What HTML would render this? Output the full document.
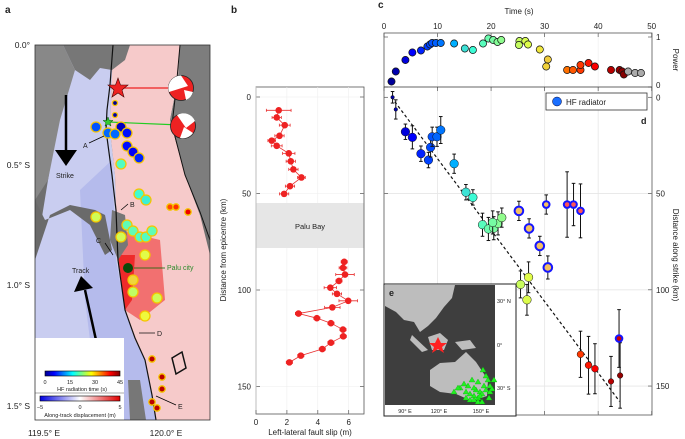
<!DOCTYPE html>
<html><head><meta charset="utf-8">
<style>
html,body{margin:0;padding:0;background:#fff;}
svg{display:block;font-family:"Liberation Sans",sans-serif;}
text{fill:#222;}
</style></head>
<body>
<svg id="fig" width="685" height="439" viewBox="0 0 685 439" xmlns="http://www.w3.org/2000/svg">
<!-- ===== Panel a ===== -->
<g>
  <text x="5" y="13" font-size="10" font-weight="bold">a</text>
  <rect x="35" y="45" width="175" height="375" fill="#7a7a7a"/>
  <polygon points="35,45 180,45 175,120 195,190 210,240 210,420 35,420" fill="#6f6f6f"/>
  <polygon points="63,45 113,45 110,130 115,175 118,260 125,310 135,340 145,360 152,395 156,420 35,420 35,260 48,180 58,120" fill="#c9cdf0"/>
  <polygon points="80,190 112,160 116,260 125,310 135,340 145,360 152,395 156,420 100,420 85,300" fill="#b5bbec"/>
  <polygon points="113,45 180,45 178,80 170,120 185,175 200,215 210,255 210,420 156,420 152,395 145,360 135,340 125,310 118,260 115,175 110,130" fill="#f6caca"/>
  <polygon points="118,230 160,240 165,300 140,320 125,310" fill="#f27070"/>
  <polygon points="118,255 135,255 132,300 125,310" fill="#ee2a2a"/>
  <polygon points="63,45 130,45 125,60 112,70 100,68 90,80 75,70" fill="#777"/>
  <polygon points="35,45 63,45 75,70 60,120 48,180 35,200" fill="#888"/>
  <polygon points="180,45 210,45 210,235 200,215 185,175 170,120 178,80" fill="#7d7d7d"/>
  <polygon points="35,200 45,220 70,210 90,225 105,255 112,250 105,215 95,210 70,205 50,215 35,260" fill="#6a6a6a"/>
  <polygon points="112,210 125,215 128,245 118,260 110,240" fill="#777"/>
  <polygon points="128,380 140,380 146,420 130,420" fill="#777"/>
  <polygon points="172,358 182,352 186,368 176,374" fill="none" stroke="#111" stroke-width="1.5"/>
  <polyline points="113,45 110,85 107,110 106,130 112,175 116,210 118,260 125,310 135,338 145,360 152,395 156,420" fill="none" stroke="#111" stroke-width="1.2"/>
  <polyline points="180,45 176,90 172,125 185,175 200,212 210,240" fill="none" stroke="#111" stroke-width="1"/>
  <line x1="118" y1="88" x2="180" y2="88" stroke="#e22" stroke-width="1.2"/>
  <line x1="108" y1="122" x2="180" y2="125" stroke="#2c2" stroke-width="1.2"/>
  <g><circle cx="181" cy="88" r="12.5" fill="#e22" stroke="#222" stroke-width="0.8"/><path d="M181,75.5 A12.5,12.5 0 0 0 169,92 L188,86 Z" fill="#fff"/><path d="M193,92 A12.5,12.5 0 0 1 186,100 L184,90 Z" fill="#fff"/></g>
  <g><circle cx="183" cy="126" r="12.5" fill="#e22" stroke="#222" stroke-width="0.8"/><path d="M177,115 A12.5,12.5 0 0 1 195,121 L186,128 Z" fill="#fff"/><path d="M180,138 A12.5,12.5 0 0 0 193,133 L184,127 Z" fill="#fff"/></g>
  <g id="mapPts"></g>
  <polygon points="118,78 120.5,85 128,85 122,90 124,97 118,93 112,97 114,90 108,85 115.5,85" fill="#e22" stroke="#400" stroke-width="0.6"/>
  <polygon points="108,117 109.3,120.5 113,120.5 110,122.7 111,126 108,124 105,126 106,122.7 103,120.5 106.7,120.5" fill="#3c3" stroke="#050" stroke-width="0.5"/>
  <line x1="66" y1="95" x2="66" y2="150" stroke="#000" stroke-width="2.5"/>
  <polygon points="55,150 77,150 66,166" fill="#000"/>
  <text x="56" y="178" font-size="7">Strike</text>
  <line x1="96" y1="340" x2="85" y2="290" stroke="#000" stroke-width="2.5"/>
  <polygon points="74,292 93,288 81,276" fill="#000"/>
  <text x="72" y="273" font-size="7">Track</text>
  <text x="83" y="148" font-size="7">A</text><line x1="89" y1="143" x2="104" y2="136" stroke="#000" stroke-width="0.7"/>
  <text x="130" y="207" font-size="7">B</text><line x1="128" y1="204" x2="121" y2="210" stroke="#000" stroke-width="0.7"/>
  <text x="96" y="243" font-size="7">C</text><line x1="105" y1="243" x2="113" y2="255" stroke="#000" stroke-width="0.7"/>
  <text x="157" y="336" font-size="7">D</text><line x1="155" y1="333" x2="139" y2="333" stroke="#000" stroke-width="0.7"/>
  <text x="178" y="409" font-size="7">E</text><line x1="176" y1="405" x2="156" y2="396" stroke="#000" stroke-width="0.7"/>
  <line x1="134" y1="268" x2="165" y2="268" stroke="#060" stroke-width="0.8"/>
  <text x="167" y="270" font-size="7" style="fill:#2a8a2a">Palu city</text>
  <g>
  <rect x="35" y="338" width="89" height="82" fill="#fff"/>
  <defs>
    <linearGradient id="jet"><stop offset="0" stop-color="#00008f"/><stop offset="0.12" stop-color="#0000ff"/><stop offset="0.37" stop-color="#00ffff"/><stop offset="0.62" stop-color="#ffff00"/><stop offset="0.87" stop-color="#ff0000"/><stop offset="1" stop-color="#800000"/></linearGradient>
    <linearGradient id="bwr"><stop offset="0" stop-color="#0000e0"/><stop offset="0.5" stop-color="#ffffff"/><stop offset="1" stop-color="#e00000"/></linearGradient>
  </defs>
  <rect x="45" y="371" width="75" height="5" fill="url(#jet)" stroke="#000" stroke-width="0.6"/>
  <text x="45" y="384" font-size="5.5" text-anchor="middle">0</text><text x="70" y="384" font-size="5.5" text-anchor="middle">15</text><text x="95" y="384" font-size="5.5" text-anchor="middle">30</text><text x="120" y="384" font-size="5.5" text-anchor="middle">45</text>
  <text x="82" y="391" font-size="5.5" text-anchor="middle">HF radiation time (s)</text>
  <line x1="35" y1="393" x2="124" y2="393" stroke="#555" stroke-width="0.5"/>
  <rect x="40" y="396" width="80" height="5" fill="url(#bwr)" stroke="#000" stroke-width="0.6"/>
  <text x="40" y="409" font-size="5.5" text-anchor="middle">−5</text><text x="80" y="409" font-size="5.5" text-anchor="middle">0</text><text x="120" y="409" font-size="5.5" text-anchor="middle">5</text>
  <text x="80" y="417" font-size="5.5" text-anchor="middle">Along-track displacement (m)</text>
  </g>
  <rect x="35" y="45" width="175" height="375" fill="none" stroke="#333" stroke-width="0.8"/>
  <g font-size="8.5" text-anchor="end">
    <text x="30" y="48">0.0°</text><text x="30" y="168">0.5° S</text><text x="30" y="288">1.0° S</text><text x="30" y="409">1.5° S</text>
  </g>
  <g font-size="8.5" text-anchor="middle">
    <text x="44" y="436">119.5° E</text><text x="166" y="436">120.0° E</text>
  </g>
</g>

<!-- ===== Panel b ===== -->
<g>
  <text x="231" y="13" font-size="10" font-weight="bold">b</text>
  <rect x="256" y="87" width="108" height="327" fill="#fff" stroke="#555" stroke-width="0.8"/>
  <g id="bGrid"></g>
  <rect x="256.5" y="203" width="107" height="45" fill="#e6e6e6"/>
  <text x="310" y="229" font-size="7.5" text-anchor="middle">Palu Bay</text>
  <g id="bMarks"></g>
  <text transform="translate(226,250) rotate(-90)" font-size="8" text-anchor="middle">Distance from epicentre (km)</text>
  <text x="310" y="435" font-size="8" text-anchor="middle">Left-lateral fault slip (m)</text>
</g>

<!-- ===== Panels c/d ===== -->
<g>
  <text x="378" y="8" font-size="10" font-weight="bold">c</text>
  <text x="519" y="14" font-size="8" text-anchor="middle">Time (s)</text>
  <rect x="384" y="33" width="268" height="382" fill="#fff" stroke="#555" stroke-width="0.8"/>
  <g id="cdGrid"></g>
  <line x1="384" y1="87" x2="652" y2="87" stroke="#333" stroke-width="0.8"/>
  <text transform="translate(673,60) rotate(90)" font-size="8" text-anchor="middle">Power</text>
  <text transform="translate(673,255) rotate(90)" font-size="8" text-anchor="middle">Distance along strike (km)</text>
  <g id="cMarks"></g>
  <g id="dMarks"></g>
  <g>
    <rect x="546" y="93" width="101" height="17" fill="#fff" stroke="#333" stroke-width="0.8"/>
    <circle cx="557" cy="101.5" r="4.5" fill="#1a6fff" stroke="#003" stroke-width="0.5"/>
    <text x="566" y="105" font-size="8">HF radiator</text>
  </g>
  <text x="641" y="124" font-size="9" font-weight="bold">d</text>
  <g>
    <rect x="384" y="284" width="132" height="132" fill="#fff" stroke="#222" stroke-width="1"/>
    <rect x="385" y="285" width="110" height="120" fill="#3e3e3e"/>
    <polygon points="385,285 455,285 452,298 444,307 436,318 428,326 420,332 414,322 404,320 396,312 385,306" fill="#bdbdbd"/>
    <polygon points="428,337 440,333 448,340 444,350 432,350" fill="#bdbdbd"/>
    <polygon points="412,335 428,350 422,352 410,340" fill="#bdbdbd"/>
    <polygon points="455,342 470,340 476,348 462,350" fill="#bdbdbd"/>
    <polygon points="430,370 440,363 455,362 466,352 476,362 488,380 487,396 472,401 456,394 440,392 430,386" fill="#bdbdbd"/>
    <polygon points="438,337 441,343 447,343 442,347 444,353 438,349 432,353 434,347 429,343 435,343" fill="#f22"/>
    <g id="stations"></g>
    <text x="389" y="296" font-size="9" font-weight="bold">e</text>
    <g font-size="5.5"><text x="497" y="303">30° N</text><text x="497" y="347">0°</text><text x="497" y="390">30° S</text>
    <text x="405" y="413" text-anchor="middle">90° E</text><text x="439" y="413" text-anchor="middle">120° E</text><text x="481" y="413" text-anchor="middle">150° E</text></g>
  </g>
</g>
</svg>

<script>
// ===== data =====
const mapX = [115,115,96,121,108,115,127,127,133,139,121,139,146,170,176,188,96,127,133,140,146,152,121,145,133,133,157,145,152,162,162,152,157];
const mapY = [103,115,127,127,133,134,133,146,152,158,164,194,200,207,207,212,217,225,231,237,237,231,237,255,280,292,298,316,359,377,389,402,408];
const mapT = [1,2,9,3,10,10,6,6,5,7,18,17,16,36,37,40,26,19,19,18,18,19,26,27,30,25,26,28,44,40,40,44,43];

const slipDist = [6.9,10.6,14.6,20.1,22.6,25.3,29.2,33.3,37.5,41.7,46.2,50.2, 85.4,88.5,92,95.3,98.8,102,105.6,109,112.2,114.6,117.2,120.5,124,127.3,130.6,134,137.5];
const slipVal  = [1.47,1.34,1.86,1.52,1.02,1.34,2.12,2.25,2.42,2.94,2.2,1.82, 5.71,5.63,5.76,5.37,4.81,5.24,5.97,4.94,2.75,3.94,4.85,5.63,5.65,4.85,4.29,2.9,2.16];
const slipErr  = [0.8,0.3,0.35,0.3,0.25,0.35,0.4,0.3,0.3,0.25,0.3,0.3, 0.2,0.25,0.6,0.2,0.4,0.3,0.6,0.5,0.2,0.2,0.2,0.2,0.2,0.2,0.2,0.2,0.2];
const bYTicks = [0,50,100,150];
const bXTicks = [0,2,4,6];

const powT = [1.4,2.2,4.0,5.3,6.9,8.1,8.6,9.0,9.7,10.6,13.1,15.1,16.6,18.5,19.5,20.4,21.2,21.9,25.3,25.2,26.4,26.9,29.1,30.6,30.3,34.2,35.3,36.7,36.7,38.2,39.4,42.4,44.0,44.5,44.8,45.6,46.9,48.0];
const powV = [0.11,0.31,0.54,0.69,0.73,0.81,0.85,0.88,0.88,0.88,0.87,0.77,0.74,0.87,0.97,0.94,0.90,0.94,0.92,0.84,0.92,0.85,0.75,0.55,0.41,0.34,0.34,0.34,0.44,0.48,0.41,0.34,0.34,0.31,0.25,0.31,0.28,0.28];

const hfT    = [1.6,2.2,4.0,5.3,6.9,8.3,8.7,9.0,9.9,10.6,13.1,15.3,16.6,18.4,19.5,20.5,21.3,22.0,20.3, 25.2,27.1,29.1,30.6,30.3,34.2,35.4,36.7, 25.5,27.0,26.7, 36.7,38.2,39.4,42.4,44.1,43.9];
const hfDist = [0,6.3,17.9,20.8,29.3,32.6,26,20.5,20.5,17,34.5,49.3,52,66.2,68.4,68,65.5,62.5,65, 59,68.1,77.2,88.4,55.7,55.7,55.7,59, 97.2,93.5,105.2, 133.5,139.2,141,147.6,144.5,125.3];
const hfErr  = [3,5,4,6,4,4,5,5,5,7,5,4,4,6,6,6,6,5,6, 5,5,5,6,5,17,11,14, 7,8,8, 12,15,13,13,17,15];
const hfRing = [0,0,0,0,0,0,0,0,0,0,0,0,0,0,0,0,0,0,0, 1,1,1,1,1,1,1,1, 0,0,0, 0,0,0,0,0,2];
const trendT = [1.4,44];
const trendD = [0,158];
const tTicks = [0,10,20,30,40,50];
const dTicks = [0,50,100,150];
const powTicks = [0,1];

const stX = [483,486,488,490,478,472,468,476,480,484,460,466,470,474,478,482,486,470,474,478,482,464,458,454,490,494,474,466,480,489,492];
const stY = [370,376,380,386,382,380,386,390,392,386,388,392,394,396,398,394,390,400,400,402,402,384,388,392,392,380,388,398,396,398,389];

// ===== helpers =====
const NS="http://www.w3.org/2000/svg";
function mk(tag, attrs, parent){const e=document.createElementNS(NS,tag);for(const k in attrs)e.setAttribute(k,attrs[k]);parent.appendChild(e);return e;}
function jet(t){
  const v=Math.max(0,Math.min(1,t/45));
  const stops=[[0,[0,0,120]],[0.12,[0,0,255]],[0.37,[0,255,255]],[0.62,[255,255,0]],[0.87,[255,0,0]],[1,[128,0,0]]];
  for(let i=1;i<stops.length;i++){if(v<=stops[i][0]){const a=stops[i-1],b=stops[i];const f=(v-a[0])/(b[0]-a[0]);const c=a[1].map((x,j)=>Math.round(x+(b[1][j]-x)*f));return "rgb("+c[0]+","+c[1]+","+c[2]+")";}}
  return "rgb(128,0,0)";
}
function soften(t){
  const v=t/45;
  if(v>0.3&&v<0.75){ // pastel greens/yellows
    const c=jet(t).match(/\d+/g).map(Number);
    return "rgb("+Math.round(c[0]*0.7+200*0.3)+","+Math.round(c[1]*0.8+240*0.2)+","+Math.round(c[2]*0.6+150*0.4)+")";
  }
  return jet(t);
}
const bx = v => 256 + v*15.45;
const by = d => 97 + d*1.93;
const tx = t => 384 + t*5.354;
const py = p => 87 - p*50;
const dy = d => 97.3 + d*1.925;

// ===== panel a points =====
const mp=document.getElementById('mapPts');
for(let i=0;i<mapX.length;i++){
  const small = i<2;
  const c=mk('circle',{cx:mapX[i],cy:mapY[i],r:small?2.5:(mapT[i]>35?3.2:5),fill:(mapT[i]>=40&&i>=28)?'#b00':soften(mapT[i]),stroke:'#f5c400','stroke-width':1.3},mp);
  
  
}
const palu=mk('circle',{cx:128,cy:268,r:5,fill:'#0a4a0a'},mp);



// ===== panel b =====
const bg=document.getElementById('bGrid');
bYTicks.forEach(v=>{
  mk('line',{x1:256,x2:364,y1:by(v),y2:by(v),stroke:'#eee','stroke-width':0.6},bg);
  mk('line',{x1:256,x2:260,y1:by(v),y2:by(v),stroke:'#555','stroke-width':0.7},bg);
  mk('line',{x1:360,x2:364,y1:by(v),y2:by(v),stroke:'#555','stroke-width':0.7},bg);
  const t=mk('text',{x:251,y:by(v)+3,'font-size':8,'text-anchor':'end'},bg);t.textContent=v;
  
  
});
bXTicks.forEach(v=>{
  mk('line',{x1:bx(v),x2:bx(v),y1:87,y2:414,stroke:'#eee','stroke-width':0.6},bg);
  mk('line',{x1:bx(v),x2:bx(v),y1:410,y2:414,stroke:'#555','stroke-width':0.7},bg);
  const t=mk('text',{x:bx(v),y:425,'font-size':8,'text-anchor':'middle'},bg);t.textContent=v;
  
  
});
const bm=document.getElementById('bMarks');
function polyB(from,to){
  let s='';
  for(let i=from;i<to;i++) s+=bx(slipVal[i])+','+by(slipDist[i])+' ';
  const p=mk('polyline',{points:s,fill:'none',stroke:'#e83030','stroke-width':0.8},bm);
  
  
}
polyB(0,12);polyB(12,slipVal.length);
for(let i=0;i<slipVal.length;i++){
  const y=by(slipDist[i]);
  const x0=bx(slipVal[i]-slipErr[i]), x1=bx(slipVal[i]+slipErr[i]);
  mk('line',{x1:x0,x2:x1,y1:y,y2:y,stroke:'#e83030','stroke-width':0.8},bm);
  mk('line',{x1:x0,x2:x0,y1:y-1.5,y2:y+1.5,stroke:'#e83030','stroke-width':0.8},bm);
  mk('line',{x1:x1,x2:x1,y1:y-1.5,y2:y+1.5,stroke:'#e83030','stroke-width':0.8},bm);
  const c=mk('circle',{cx:bx(slipVal[i]),cy:y,r:3.3,fill:'#ee2222'},bm);
  
  
}

// ===== panels c/d grid & ticks =====
const g=document.getElementById('cdGrid');
tTicks.forEach(v=>{
  if(v>0&&v<50){
    mk('line',{x1:tx(v),x2:tx(v),y1:87,y2:415,stroke:'#e6e6e6','stroke-width':0.8},g);
    mk('line',{x1:tx(v),x2:tx(v),y1:33,y2:87,stroke:'#f0f0f0','stroke-width':0.8},g);
  }
  mk('line',{x1:tx(v),x2:tx(v),y1:33,y2:37,stroke:'#555','stroke-width':0.7},g);
  mk('line',{x1:tx(v),x2:tx(v),y1:87,y2:91,stroke:'#555','stroke-width':0.7},g);
  mk('line',{x1:tx(v),x2:tx(v),y1:411,y2:415,stroke:'#555','stroke-width':0.7},g);
  const t=mk('text',{x:tx(v),y:29,'font-size':8,'text-anchor':'middle'},g);t.textContent=v;
  
  
});
dTicks.forEach(v=>{
  if(v>0) mk('line',{x1:384,x2:652,y1:dy(v),y2:dy(v),stroke:'#e6e6e6','stroke-width':0.8},g);
  mk('line',{x1:384,x2:388,y1:dy(v),y2:dy(v),stroke:'#555','stroke-width':0.7},g);
  mk('line',{x1:648,x2:652,y1:dy(v),y2:dy(v),stroke:'#555','stroke-width':0.7},g);
  const t=mk('text',{x:656,y:dy(v)+3,'font-size':8},g);t.textContent=v;
  
  
});
powTicks.forEach(v=>{
  mk('line',{x1:384,x2:388,y1:py(v),y2:py(v),stroke:'#555','stroke-width':0.7},g);
  mk('line',{x1:648,x2:652,y1:py(v),y2:py(v),stroke:'#555','stroke-width':0.7},g);
  const t=mk('text',{x:656,y:py(v)+(v===0?1:3),'font-size':8},g);t.textContent=v;
  
  
});

// ===== panel c power =====
const cm=document.getElementById('cMarks');
for(let i=0;i<powT.length;i++){
  const col = (powT[i]>44.6 && powV[i]>0.26) ? '#aaa' : soften(powT[i]);
  const c=mk('circle',{cx:tx(powT[i]),cy:py(powV[i]),r:3.6,fill:col,stroke:'#111','stroke-width':0.7},cm);
  
  
}

// ===== panel d =====
const dm=document.getElementById('dMarks');
const tl=mk('line',{x1:tx(trendT[0]),y1:dy(trendD[0]),x2:tx(trendT[1]),y2:dy(trendD[1]),stroke:'#111','stroke-width':1.2,'stroke-dasharray':'3,2.5'},dm);


for(let i=0;i<hfT.length;i++){
  const x=tx(hfT[i]), y=dy(hfDist[i]), e=hfErr[i]*1.925;
  mk('line',{x1:x,x2:x,y1:y-e,y2:y+e,stroke:'#111','stroke-width':1},dm);
  mk('line',{x1:x-1.8,x2:x+1.8,y1:y-e,y2:y-e,stroke:'#111','stroke-width':1},dm);
  mk('line',{x1:x-1.8,x2:x+1.8,y1:y+e,y2:y+e,stroke:'#111','stroke-width':1},dm);
  let c;
  if(hfRing[i]===1){
    c=mk('circle',{cx:x,cy:y,r:(hfT[i]>30&&hfDist[i]<62)?3.3:4.3,fill:hfT[i]>33?'#f55':'#f4c060',stroke:'#1515ff','stroke-width':2},dm);
  } else if(hfRing[i]===2){
    c=mk('circle',{cx:x,cy:y,r:3.3,fill:'#c00',stroke:'#1515ff','stroke-width':2},dm);
  } else {
    const r = i<2 ? 1.8 : (hfT[i]>42 ? 2.8 : (hfT[i]>36?3.4:4.3));
    c=mk('circle',{cx:x,cy:y,r:r,fill:soften(hfT[i]),stroke:'#111','stroke-width':0.5},dm);
  }
  
  
}

// ===== inset stations =====
const st=document.getElementById('stations');
for(let i=0;i<stX.length;i++){
  const p=mk('polygon',{points:stX[i]+','+(stY[i]-3)+' '+(stX[i]-3)+','+(stY[i]+2)+' '+(stX[i]+3)+','+(stY[i]+2),fill:'#22ee22',stroke:'#0a0','stroke-width':0.3},st);
  
  
}
</script>
</body></html>
